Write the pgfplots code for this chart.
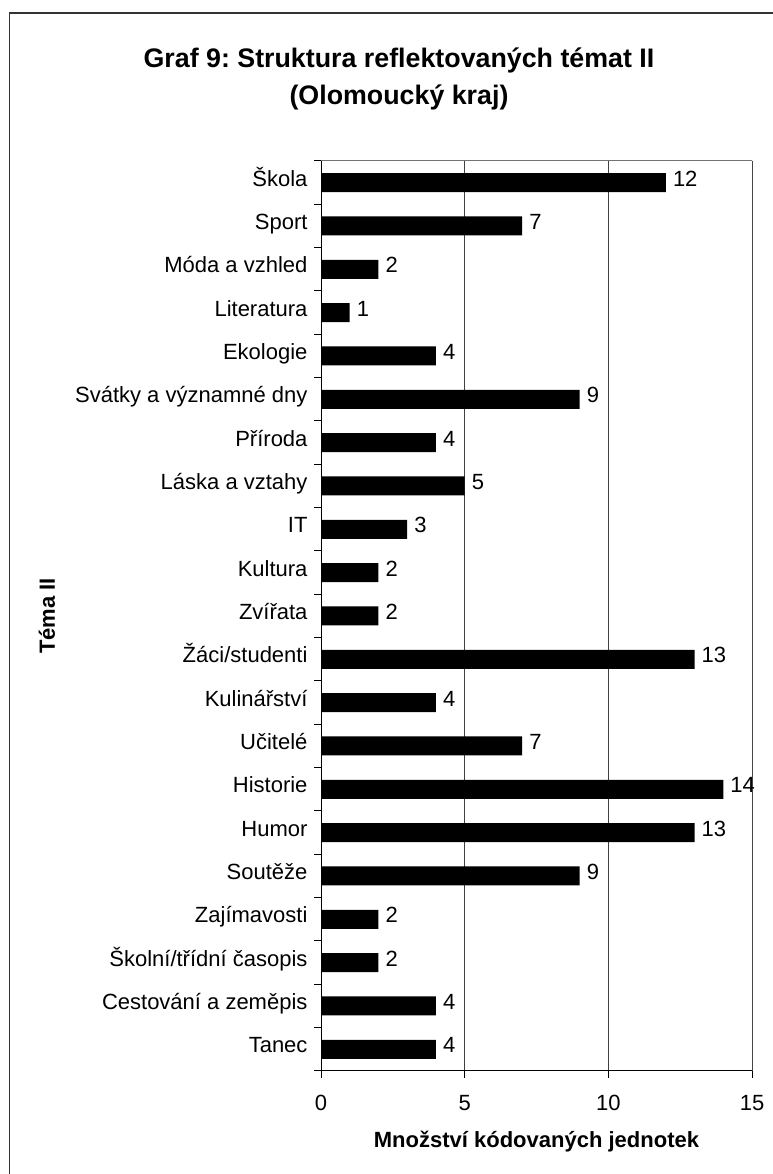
\documentclass[border=0pt]{standalone}
\usepackage{fontspec}
\setmainfont{Liberation Sans}
\usepackage{pgfplots}
\pgfplotsset{compat=1.18}
\frenchspacing
\begin{document}
\begin{tikzpicture}[x=1pt,y=1pt]
\useasboundingbox (0,0) rectangle (772,1174);
\draw[black!80, line width=1.6pt] (9.5,-2) -- (9.5,1161) -- (774,1161);
\node[font=\fontsize{26.8}{37}\selectfont\bfseries, align=center] at (399,1095.5) {Graf 9: Struktura reflektovaných témat II\\(Olomoucký kraj)};
\begin{axis}[
  at={(321pt,103pt)}, anchor=south west,
  scale only axis, width=431pt, height=910pt,
  xbar, bar width=19pt,
  enlargelimits=false,
  xmin=0, xmax=15, ymin=-0.5, ymax=20.5,
  xtick={0,5,10,15},
  ytick={0,...,20},
  yticklabels={Tanec, Cestování a zeměpis, Školní/třídní časopis, Zajímavosti, Soutěže, Humor, Historie, Učitelé, Kulinářství, Žáci/studenti, Zvířata, Kultura, IT, Láska a vztahy, Příroda, Svátky a významné dny, Ekologie, Literatura, Móda a vzhled, Sport, Škola},
  minor ytick={-0.5,0.5,...,20.5},
  axis x line*=bottom, axis y line*=left,
  axis line style={black, line width=1pt},
  tick align=outside,
  major tick length=7pt, minor tick length=7pt,
  every major y tick/.append style={draw=none},
  every tick/.append style={black, line width=1pt},
  xmajorgrids,
  x grid style={black!75, line width=1pt},
  tick label style={font=\fontsize{22}{26}\selectfont},
  xticklabel style={yshift=-14pt},
  yticklabel style={xshift=-3pt, text height=0.72em, text depth=0pt},
  /pgf/number format/assume math mode=true,
  xlabel={Množství kódovaných jednotek},
  ylabel={Téma II},
  label style={font=\fontsize{22}{26}\selectfont\bfseries},
  xlabel style={at={(axis description cs:0.5,-0.078)}, anchor=center},
  ylabel style={at={(axis description cs:-0.636,0.5)}, anchor=center},
  nodes near coords,
  nodes near coords style={font=\fontsize{22}{26}\selectfont, anchor=west, inner sep=0pt, xshift=7pt, text height=0.72em, text depth=0pt},
]
\addplot[fill=black, draw=none] coordinates {
(4,0) (4,1) (2,2) (2,3) (9,4) (13,5) (14,6) (7,7) (4,8) (13,9) (2,10)
(2,11) (3,12) (5,13) (4,14) (9,15) (4,16) (1,17) (2,18) (7,19) (12,20)
};
\draw[black!55, line width=1pt] (rel axis cs:0,1) -- (rel axis cs:1,1) -- (rel axis cs:1,0);
\end{axis}
\end{tikzpicture}
\end{document}
